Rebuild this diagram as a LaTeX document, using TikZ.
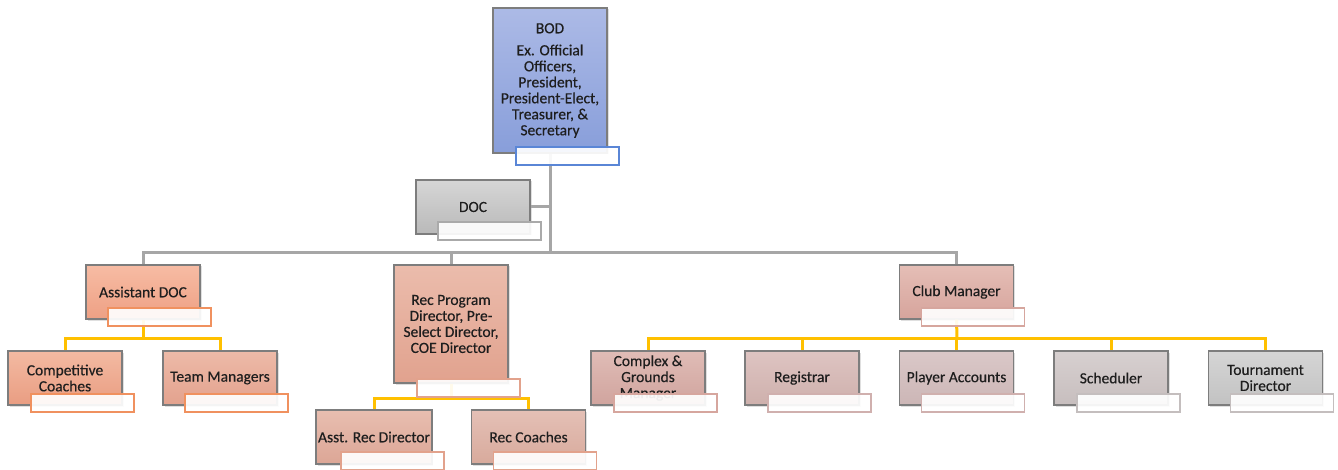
\documentclass[tikz,border=0pt]{standalone}
\usepackage{fontspec}
\setmainfont{Carlito}[FakeBold=0.4]
\usepackage{tikz}
\usetikzlibrary{calc,shadows}
\definecolor{txtc}{RGB}{30,30,30}
\definecolor{edgec}{RGB}{125,125,125}
\definecolor{greyline}{RGB}{166,166,166}
\definecolor{yelline}{RGB}{255,192,0}
\definecolor{bodA}{RGB}{172,186,230}\definecolor{bodB}{RGB}{136,158,218}
\definecolor{docA}{RGB}{214,214,214}\definecolor{docB}{RGB}{185,185,185}
\definecolor{asstA}{RGB}{247,188,164}\definecolor{asstB}{RGB}{238,160,132}
\definecolor{compA}{RGB}{243,186,162}\definecolor{compB}{RGB}{233,157,130}
\definecolor{teamA}{RGB}{237,186,168}\definecolor{teamB}{RGB}{227,162,142}
\definecolor{recA}{RGB}{235,188,172}\definecolor{recB}{RGB}{225,162,142}
\definecolor{arecA}{RGB}{232,190,176}\definecolor{arecB}{RGB}{220,166,150}
\definecolor{rcoA}{RGB}{228,192,182}\definecolor{rcoB}{RGB}{216,170,156}
\definecolor{clubA}{RGB}{229,190,182}\definecolor{clubB}{RGB}{214,164,156}
\definecolor{cgmA}{RGB}{224,188,182}\definecolor{cgmB}{RGB}{208,164,158}
\definecolor{regA}{RGB}{222,196,194}\definecolor{regB}{RGB}{206,176,172}
\definecolor{paccA}{RGB}{218,200,200}\definecolor{paccB}{RGB}{204,182,182}
\definecolor{schA}{RGB}{215,208,208}\definecolor{schB}{RGB}{199,190,190}
\definecolor{tourA}{RGB}{213,213,213}\definecolor{tourB}{RGB}{194,194,194}
\definecolor{capblue}{RGB}{90,134,214}
\definecolor{capgrey}{RGB}{170,170,170}
\definecolor{caporange}{RGB}{240,145,95}
\definecolor{capsalmon}{RGB}{226,162,140}
\definecolor{caprose}{RGB}{214,166,158}
\definecolor{capmauve}{RGB}{208,176,174}
\definecolor{capsilver}{RGB}{196,190,190}

\begin{document}
\begin{tikzpicture}[x=1pt,y=-1pt,
    box/.style 2 args={draw=edgec,line width=1.3pt,top color=#1,bottom color=#2,
      minimum width=114pt,minimum height=54pt,inner sep=2pt,align=center,
      text=txtc,font=\fontsize{15.5}{16}\selectfont,
      drop shadow={shadow xshift=1.5pt,shadow yshift=-1.5pt,opacity=0.25}},
    capbox/.style={draw=#1,line width=1.2pt,fill=white,fill opacity=0.92,
      minimum width=103pt,minimum height=18pt,inner sep=0pt,anchor=south east},
    gline/.style={draw=greyline,line width=3pt},
    yline/.style={draw=yelline,line width=3pt}]
\useasboundingbox (0,0) rectangle (1338,470);
% bus points
\coordinate (topbus) at (550,253);
\coordinate (abus) at (143,338);
\coordinate (rbus) at (451,398);
\coordinate (cbus) at (957,338);
% nodes
\node[box={bodA}{bodB},minimum height=145pt] (bod) at (550,80.5) {BOD\\[6pt]Ex. Official\\Officers,\\President,\\President-Elect,\\Treasurer, \&\\Secretary};
\node[box={docA}{docB}] (doc) at (473,207) {DOC};
\node[box={asstA}{asstB}] (asst) at (143,292) {Assistant DOC};
\node[box={recA}{recB},minimum height=118pt] (rec) at (451,324) {Rec Program\\Director, Pre-\\Select Director,\\COE Director};
\node[box={clubA}{clubB}] (club) at (956.5,292) {Club Manager};
\node[box={compA}{compB}] (comp) at (65,378) {Competitive\\Coaches};
\node[box={teamA}{teamB}] (team) at (220,378) {Team Managers};
\node[box={arecA}{arecB}] (arec) at (374,437) {Asst. Rec Director};
\node[box={rcoA}{rcoB}] (rco) at (528.5,437) {Rec Coaches};
\node[box={cgmA}{cgmB}] (cgm) at (648,378) {Complex \&\\Grounds\\Manager};
\node[box={regA}{regB}] (reg) at (802,378) {Registrar};
\node[box={paccA}{paccB}] (pacc) at (956.5,378) {Player Accounts};
\node[box={schA}{schB}] (sch) at (1111,378) {Scheduler};
\node[box={tourA}{tourB}] (tour) at (1265.5,378) {Tournament\\Director};
% connectors
\draw[gline] (bod.south) -- (topbus);
\draw[gline] (doc.east) -- (doc.east -| topbus);
\draw[gline] (asst.north) |- (topbus) -| (club.north);
\draw[gline] (rec.north) -- (rec.north |- topbus);
\draw[yline] (asst.south) -- (abus);
\draw[yline] (comp.north) |- (abus) -| (team.north);
\draw[yline] (rec.south) -- (rbus);
\draw[yline] (arec.north) |- (rbus) -| (rco.north);
\draw[yline] (club.south) -- (cbus);
\draw[yline] (cgm.north) |- (cbus) -| (tour.north);
\draw[yline] (reg.north) -- (reg.north |- cbus);
\draw[yline] (pacc.north) -- (pacc.north |- cbus);
\draw[yline] (sch.north) -- (sch.north |- cbus);
% caption boxes
\node[capbox=capblue] (bodcap) at ([xshift=12pt,yshift=-12pt]bod.south east) {};
\node[capbox=capgrey] (doccap) at ([xshift=11pt,yshift=-6pt]doc.south east) {};
\node[capbox=caporange] (asstcap) at ([xshift=11pt,yshift=-7pt]asst.south east) {};
\node[capbox=capsalmon] (reccap) at ([xshift=12pt,yshift=-14pt]rec.south east) {};
\node[capbox=caprose] (clubcap) at ([xshift=11pt,yshift=-7pt]club.south east) {};
\node[capbox=caporange] (compcap) at ([xshift=12pt,yshift=-7pt]comp.south east) {};
\node[capbox=caporange] (teamcap) at ([xshift=11pt,yshift=-7pt]team.south east) {};
\node[capbox=capsalmon] (areccap) at ([xshift=12pt,yshift=-6pt]arec.south east) {};
\node[capbox=capsalmon] (rcocap) at ([xshift=11pt,yshift=-6pt]rco.south east) {};
\node[capbox=caprose] (cgmcap) at ([xshift=12pt,yshift=-7pt]cgm.south east) {};
\node[capbox=capmauve] (regcap) at ([xshift=12pt,yshift=-7pt]reg.south east) {};
\node[capbox=capmauve] (pacccap) at ([xshift=11pt,yshift=-7pt]pacc.south east) {};
\node[capbox=capsilver] (schcap) at ([xshift=12pt,yshift=-7pt]sch.south east) {};
\node[capbox=capsilver] (tourcap) at ([xshift=11pt,yshift=-7pt]tour.south east) {};
\end{tikzpicture}
\end{document}
